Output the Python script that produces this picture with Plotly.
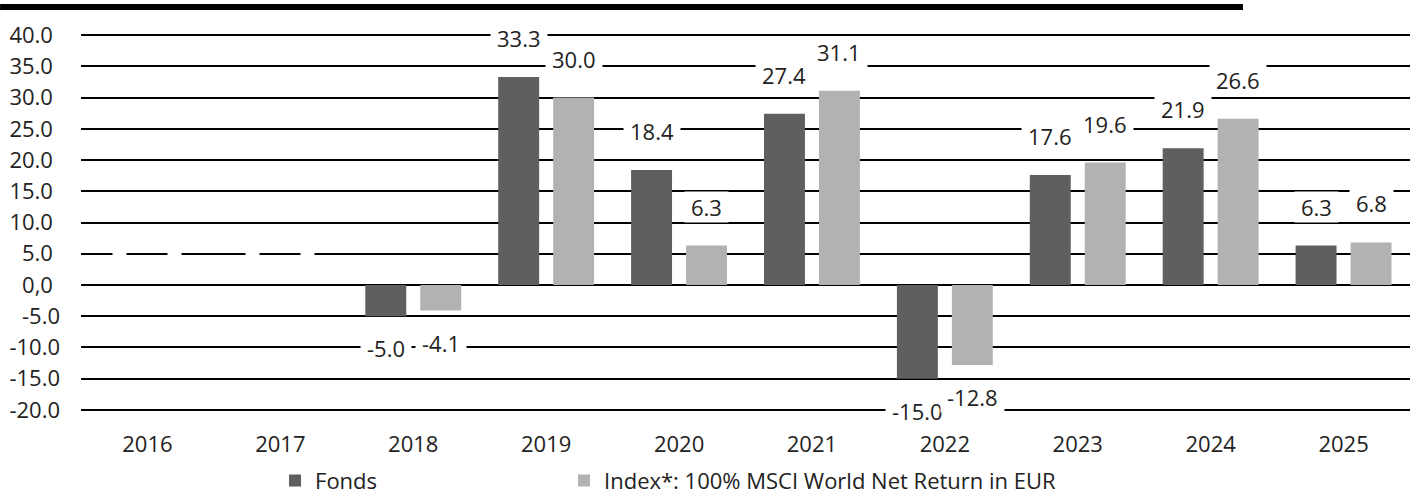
import plotly.graph_objects as go

years = ["2016", "2017", "2018", "2019", "2020", "2021", "2022", "2023", "2024", "2025"]
fonds = [None, None, -5.0, 33.3, 18.4, 27.4, -15.0, 17.6, 21.9, 6.3]
index = [None, None, -4.1, 30.0, 6.3, 31.1, -12.8, 19.6, 26.6, 6.8]
series_names = ["Fonds", "Index*: 100% MSCI World Net Return in EUR"]
ytick_vals = [40, 35, 30, 25, 20, 15, 10, 5, 0, -5, -10, -15, -20]

FONT = "Open Sans"
TXT = "#222222"
C_FONDS = "#5f5f5f"
C_INDEX = "#b2b2b2"
BARGAP = 0.173
BARGROUPGAP = 0.255

HID = "<span style='color:rgba(0,0,0,0)'>-</span>"


def fmt_tick(v):
    if v == 0:
        return "0,0" + HID
    if v < 0:
        return f"{v:.1f}"
    return f"{v:.1f}" + HID


fig = go.Figure()
fig.add_trace(go.Bar(x=years, y=fonds, name=series_names[0], marker_color=C_FONDS,
                     marker_line_width=0, legendwidth=244))
fig.add_trace(go.Bar(x=years, y=index, name=series_names[1], marker_color=C_INDEX,
                     marker_line_width=0, legendwidth=520))

annotations = []
half = (1 - BARGAP) / 4
for si, vals in enumerate([fonds, index]):
    off = -half if si == 0 else half
    for i, v in enumerate(vals):
        xv = i + off
        if v is None:
            annotations.append(dict(x=xv, y=0, xref="x", yref="y", text=" ", showarrow=False,
                                    bgcolor="white", borderpad=6, width=1, height=18,
                                    yshift=39, font=dict(family=FONT, size=22, color=TXT)))
        else:
            annotations.append(dict(x=xv, y=v, xref="x", yref="y", text=f"{v:.1f}",
                                    showarrow=False, bgcolor="white", borderpad=6, height=18,
                                    yshift=39 if v >= 0 else -32,
                                    font=dict(family=FONT, size=22, color=TXT)))

fig.update_layout(
    width=1416, height=495,
    margin=dict(l=81, r=6, t=32, b=82, autoexpand=False),
    paper_bgcolor="white", plot_bgcolor="white",
    barmode="group", bargap=BARGAP, bargroupgap=BARGROUPGAP,
    font=dict(family=FONT, size=22, color=TXT),
    showlegend=True,
    legend=dict(orientation="h", x=0.146, xanchor="left", y=-0.178, yanchor="middle",
                font=dict(family=FONT, size=22, color=TXT),
                bgcolor="rgba(0,0,0,0)"),
    annotations=annotations,
    shapes=[dict(type="rect", xref="paper", yref="paper", x0=-0.0609, x1=0.8743,
                 y0=1.0577, y1=1.0735, fillcolor="black", line_width=0, layer="above")],
)
fig.update_xaxes(type="category", range=[-0.5, 9.5], showgrid=False, showline=False,
                 zeroline=False, ticks="", ticklabelstandoff=16, automargin=False,
                 tickfont=dict(family=FONT, size=22, color=TXT))
fig.update_yaxes(range=[-20.5, 40.5], tickvals=ytick_vals,
                 ticktext=[fmt_tick(v) for v in ytick_vals],
                 showgrid=True, gridcolor="black", gridwidth=2,
                 zeroline=True, zerolinecolor="black", zerolinewidth=2,
                 showline=False, ticks="", ticklabelstandoff=20, automargin=False,
                 tickfont=dict(family=FONT, size=22, color=TXT))

fig.write_html("out.html", config={"displayModeBar": False},
               post_script="document.body.style.margin='0';")
